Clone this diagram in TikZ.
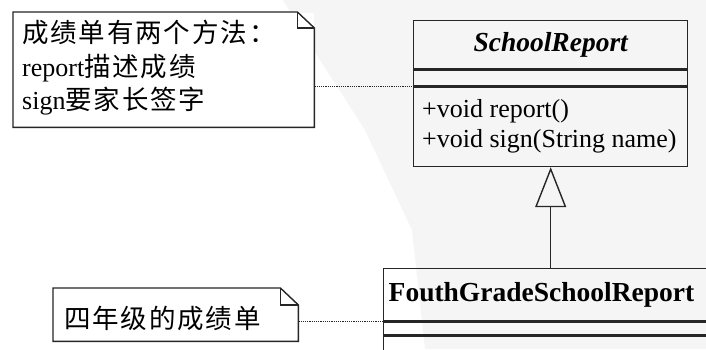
\documentclass[tikz,border=0pt]{standalone}
\usepackage{fontspec}
\setmainfont{Liberation Serif}
\newfontfamily\cjk[LetterSpace=7]{Noto Sans CJK SC}
\usetikzlibrary{arrows.meta}
\tikzset{
  outline/.style={draw=black!85, line width=1.4pt},
  notebox/.style={outline, fill=white, inner sep=0pt, anchor=north west},
  notetext/.style={anchor=west, inner sep=0pt, align=left, font=\fontsize{26}{33.5}\selectfont},
  compart/.style={outline, inner sep=0pt, anchor=north west},
  dotline/.style={draw=black!85, line width=1.1pt, dash pattern=on 1.2pt off 1pt},
  inherit/.style={outline, -{Triangle[open, length=40pt, width=31pt, line width=1.4pt]}},
}
\newcommand{\cj}[1]{{\cjk\fontsize{26.5}{33.5}\selectfont #1}}
\begin{document}
\begin{tikzpicture}[x=1pt,y=-1pt]
\useasboundingbox (0,0) rectangle (706,349);
\fill[white] (0,0) rectangle (706,349);
\fill[gray!8!white] (283,0) -- (706,0) -- (706,349) -- (425,349) -- (412,230) -- (365,130) -- (320,60) -- cycle;
\begin{scope}
\clip (0,0) rectangle (706,349);
% class SchoolReport
\node[compart, minimum width=274pt, minimum height=48pt] (srname) at (413,20)
  {\fontsize{27.5}{30}\selectfont\bfseries\itshape SchoolReport};
\node[compart, minimum width=274pt, minimum height=16pt] (srattr) at (srname.south west) {};
\node[compart, minimum width=274pt, minimum height=79pt] (srops) at (srattr.south west) {};
\node[anchor=west, inner sep=0pt, align=left, font=\fontsize{26}{30}\selectfont] (srtext)
  at ([xshift=9pt, yshift=1pt]srops.west) {+void report()\\+void sign(String name)};
% class FouthGradeSchoolReport
\node[compart, minimum width=328pt, minimum height=52pt, text width=318pt, align=left] (fgname) at (383,268)
  {\hspace*{0pt}\fontsize{27.5}{30}\selectfont\bfseries FouthGradeSchoolReport};
\node[compart, minimum width=328pt, minimum height=13pt] (fgattr) at (fgname.south west) {};
\node[compart, minimum width=328pt, minimum height=40pt] (fgops) at (fgattr.south west) {};
% note 1
\node[notebox, draw=none, minimum width=300pt, minimum height=114pt] (n1) at (13,12) {};
\draw[outline, fill=white] (n1.north west) -- ([xshift=-17pt]n1.north east) -- ([yshift=-16pt]n1.north east)
  -- (n1.south east) -- (n1.south west) -- cycle;
\draw[outline] ([xshift=-17pt]n1.north east) -- ([xshift=-17pt, yshift=-16pt]n1.north east) -- ([yshift=-16pt]n1.north east);
\node[notetext] (n1t) at ([xshift=9pt, yshift=2pt]n1.west)
  {\cj{成绩单有两个方法：}\\report\cj{描述成绩}\\sign\cj{要家长签字}};
% note 2
\node[notebox, draw=none, minimum width=244pt, minimum height=52pt] (n2) at (53,288) {};
\draw[outline, fill=white] (n2.north west) -- ([xshift=-18pt]n2.north east) -- ([yshift=-17pt]n2.north east)
  -- (n2.south east) -- (n2.south west) -- cycle;
\draw[outline] ([xshift=-18pt]n2.north east) -- ([xshift=-18pt, yshift=-17pt]n2.north east) -- ([yshift=-17pt]n2.north east);
\node[notetext] (n2t) at ([xshift=11pt, yshift=-4pt]n2.west) {\cj{四年级的成绩单}};
% connectors
\draw[dotline] (srattr.south west -| n1.east) -- (srattr.south west);
\draw[dotline] (fgname.south west -| n2.east) -- (fgname.south west);
\draw[inherit] (fgname.north -| srops.south) -- (srops.south);
\end{scope}
\end{tikzpicture}
\end{document}
